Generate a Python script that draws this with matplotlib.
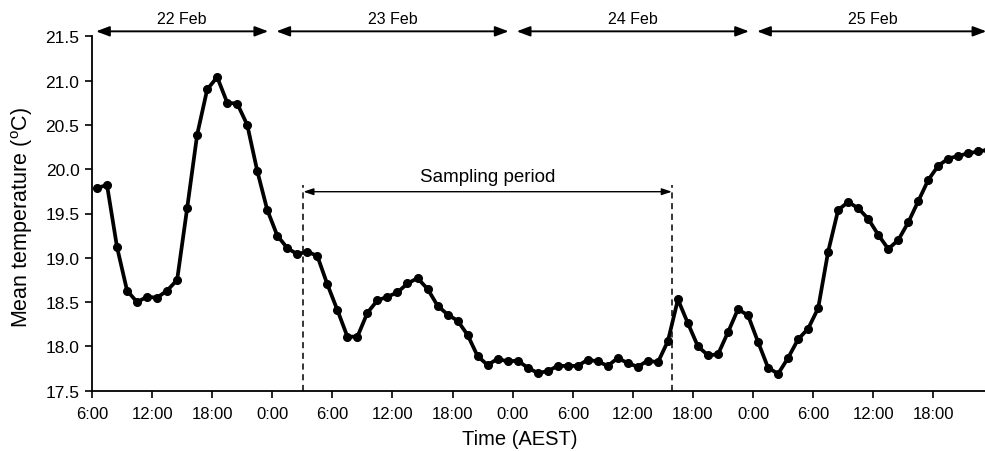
import numpy as np
import matplotlib
matplotlib.use("Agg")
import matplotlib.pyplot as plt
from matplotlib.transforms import blended_transform_factory

plt.rcParams['font.family'] = ['Liberation Sans', 'DejaVu Sans']
plt.rcParams['mathtext.fontset'] = 'custom'
plt.rcParams['mathtext.rm'] = 'Liberation Sans'
plt.rcParams['mathtext.it'] = 'Liberation Sans'

# Hourly mean temperature, first reading at 6:30 on 22 Feb
temps = [19.79, 19.82, 19.12, 18.63, 18.50, 18.56, 18.55, 18.63, 18.75, 19.56,
         20.39, 20.90, 21.04, 20.75, 20.74, 20.50, 19.98, 19.54, 19.25, 19.11,
         19.04, 19.07, 19.02, 18.70, 18.41, 18.11, 18.11, 18.38, 18.52, 18.56,
         18.61, 18.71, 18.77, 18.65, 18.46, 18.36, 18.29, 18.13, 17.89, 17.79,
         17.86, 17.83, 17.84, 17.76, 17.70, 17.72, 17.78, 17.78, 17.78, 17.85,
         17.83, 17.78, 17.87, 17.81, 17.77, 17.84, 17.82, 18.06, 18.53, 18.26,
         18.00, 17.90, 17.91, 18.16, 18.42, 18.35, 18.05, 17.76, 17.69, 17.87,
         18.08, 18.20, 18.43, 19.07, 19.54, 19.63, 19.56, 19.44, 19.26, 19.10,
         19.20, 19.40, 19.64, 19.88, 20.04, 20.12, 20.15, 20.18, 20.20, 20.22]
hours = np.arange(len(temps)) + 0.5  # hours since 6:00, 22 Feb

tick_hours = list(range(0, 85, 6))
tick_labels = ['6:00', '12:00', '18:00', '0:00', '6:00', '12:00', '18:00', '0:00',
               '6:00', '12:00', '18:00', '0:00', '6:00', '12:00', '18:00']
y_ticks = [17.5, 18.0, 18.5, 19.0, 19.5, 20.0, 20.5, 21.0, 21.5]

day_labels = ['22 Feb', '23 Feb', '24 Feb', '25 Feb']
day_starts = [0, 18, 42, 66]
day_ends = [18, 42, 66, 90]
day_label_x = [9, 30, 54, 78]

sampling_start = 21.1
sampling_end = 57.9
sampling_label = 'Sampling period'

fig = plt.figure(figsize=(9.85, 4.52), dpi=100)
ax = fig.add_axes([92/985, 1-391.7/452, (985-92)/985, (391.7-37.3)/452])

ax.plot(hours, temps, color='black', lw=2.7, marker='o', ms=5.5, zorder=3)

ax.set_xlim(0, 89.16)
ax.set_ylim(17.5, 21.5)
ax.set_xticks(tick_hours)
ax.set_xticklabels(tick_labels, fontsize=12)
ax.set_yticks(y_ticks)
ax.set_yticklabels([f'{v:.1f}' for v in y_ticks], fontsize=12.5)
ax.tick_params(direction='out', length=5, width=1.2)
ax.tick_params(axis='x', pad=6)
ax.tick_params(axis='y', pad=4)
for s in ['top', 'right']:
    ax.spines[s].set_visible(False)
for s in ['left', 'bottom']:
    ax.spines[s].set_linewidth(1.3)

fig.text(22.5/985, 1-217/452, r'Mean temperature ($^{\rm o}$C)', rotation=90,
         ha='center', va='center', fontsize=15.5)
fig.text(520/985, 1-440/452, 'Time (AEST)', ha='center', va='center', fontsize=14.5)

# day arrows above the plot
trans = blended_transform_factory(ax.transData, ax.transAxes)
for lab, s, e, cx in zip(day_labels, day_starts, day_ends, day_label_x):
    a = s + 0.4
    b = min(e - 0.4, 89.3)
    ax.annotate('', xy=(b, 1.014), xytext=(a, 1.014), xycoords=trans, textcoords=trans,
                arrowprops=dict(arrowstyle='<|-|>,head_length=0.8,head_width=0.3',
                                color='black', lw=1.4, shrinkA=0, shrinkB=0),
                annotation_clip=False)
    ax.text(cx, 1.037, lab, transform=trans, ha='center', va='baseline', fontsize=11.5)

# sampling period
y_arrow = 19.746
for xv in [sampling_start, sampling_end]:
    ax.plot([xv, xv], [17.5, 19.82], color='black', lw=1.1, ls=(0, (4, 3)), zorder=2)
ax.annotate('', xy=(sampling_end, y_arrow), xytext=(sampling_start, y_arrow),
            arrowprops=dict(arrowstyle='<|-|>,head_length=0.6,head_width=0.2',
                            color='black', lw=1.0, shrinkA=0, shrinkB=0))
ax.text((sampling_start + sampling_end) / 2, y_arrow + 0.12, sampling_label,
        ha='center', va='baseline', fontsize=13.5)

fig.savefig('out.png', dpi=100)
